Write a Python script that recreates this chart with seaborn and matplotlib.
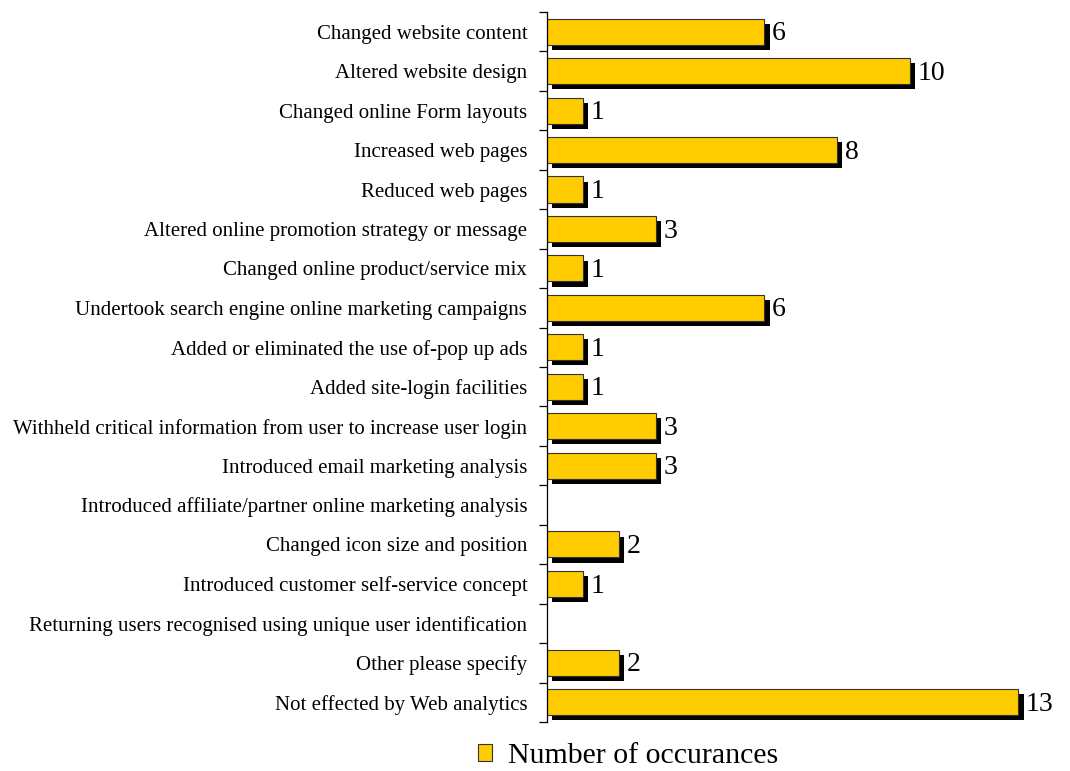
import matplotlib
matplotlib.use("Agg")
import matplotlib.pyplot as plt
import matplotlib.patheffects as pe
from matplotlib.patches import Patch
import numpy as np
import pandas as pd
import seaborn as sns

categories = [
    "Changed website content",
    "Altered website design",
    "Changed online Form layouts",
    "Increased web pages",
    "Reduced web pages",
    "Altered online promotion strategy or message",
    "Changed online product/service mix",
    "Undertook search engine online marketing campaigns",
    "Added or eliminated the use of-pop up ads",
    "Added site-login facilities",
    "Withheld critical information from user to increase user login",
    "Introduced email marketing analysis",
    "Introduced affiliate/partner online marketing analysis",
    "Changed icon size and position",
    "Introduced customer self-service concept",
    "Returning users recognised using unique user identification",
    "Other please specify",
    "Not effected by Web analytics",
]
occurrences = [6, 10, 1, 8, 1, 3, 1, 6, 1, 1, 3, 3, 0, 2, 1, 0, 2, 13]
series_name = "Number of occurances"

BAR = "#FFCC00"

sns.set_theme(style="white")
plt.rcParams["font.family"] = ["Liberation Serif", "DejaVu Serif"]
plt.rcParams["text.color"] = "black"

df = pd.DataFrame({"category": categories, "value": occurrences})

fig = plt.figure(figsize=(10.7, 7.71), dpi=100)
ax = fig.add_axes([0.511, 0.0636, 0.47, 0.9208])

sns.barplot(data=df, x="value", y="category", orient="h", color=BAR,
            saturation=1, width=0.66, edgecolor="#333333", linewidth=0.8, ax=ax)

# solid black drop shadow behind each bar
shadow = [pe.SimplePatchShadow(offset=(3.7, -3.7), shadow_rgbFace="black", alpha=1.0),
          pe.Normal()]
for p in ax.patches:
    if p.get_width() > 0:
        p.set_path_effects(shadow)
    else:
        p.set_visible(False)

for i, v in enumerate(occurrences):
    if v > 0:
        ax.annotate(str(v), xy=(v, i), xytext=(5.5, -1.5), textcoords="offset points",
                    ha="left", va="center", fontsize=20, color="black")

ax.set_xlim(0, 13.86)
ax.set_ylim(len(categories) - 0.5, -0.5)
ax.set_xlabel("")
ax.set_ylabel("")
ax.set_xticks([])

for s in ["top", "right", "bottom"]:
    ax.spines[s].set_visible(False)
ax.spines["left"].set_color("black")
ax.spines["left"].set_linewidth(0.9)

ax.tick_params(axis="y", which="major", length=0, pad=14, labelsize=15,
               labelcolor="black")
ax.set_yticks(np.arange(-0.5, len(categories), 1.0), minor=True)
ax.tick_params(axis="y", which="minor", length=6, width=0.9, color="black",
               direction="out", left=True)

leg = fig.legend(handles=[Patch(facecolor=BAR, edgecolor="#333333", linewidth=0.8,
                                label=series_name)],
                 loc="center", bbox_to_anchor=(0.587, 0.019), frameon=False,
                 fontsize=21.5, handlelength=0.48, handleheight=0.48,
                 handletextpad=0.55, borderaxespad=0)
for t in leg.get_texts():
    t.set_color("black")

fig.savefig("out.png", dpi=100)
